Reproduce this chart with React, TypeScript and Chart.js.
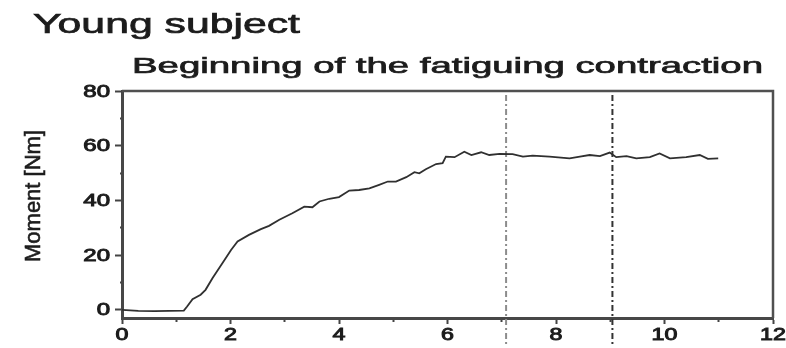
import React, { useEffect, useRef } from "react";
import { Chart, registerables } from "chart.js";

Chart.register(...registerables);

const titleText = "Young subject";
const subtitleText = "Beginning of the fatiguing contraction";
const yAxisLabel = "Moment [Nm]";

const timeSec = [0, 0.3, 0.6, 0.87, 1.14, 1.2, 1.3, 1.45, 1.54, 1.67, 1.85, 2.01, 2.13, 2.34, 2.56, 2.71, 2.9, 3.14, 3.36, 3.51, 3.64, 3.82, 4.0, 4.19, 4.37, 4.56, 4.74, 4.9, 5.05, 5.24, 5.39, 5.48, 5.6, 5.79, 5.91, 5.97, 6.13, 6.31, 6.44, 6.62, 6.77, 6.96, 7.2, 7.39, 7.57, 7.88, 8.25, 8.44, 8.62, 8.81, 8.99, 9.11, 9.3, 9.48, 9.73, 9.91, 10.1, 10.4, 10.65, 10.8, 10.99];
const momentNm = [0, -0.4, -0.5, -0.4, -0.3, 1.2, 3.9, 5.5, 7.3, 11.6, 17, 21.9, 25, 27.4, 29.5, 30.7, 32.9, 35.3, 37.7, 37.5, 39.6, 40.6, 41.2, 43.6, 43.8, 44.4, 45.7, 46.9, 46.9, 48.5, 50.3, 49.9, 51.4, 53.3, 53.6, 56, 55.8, 57.8, 56.6, 57.6, 56.6, 57, 56.9, 56, 56.4, 56, 55.4, 56, 56.6, 56.2, 57.5, 55.8, 56.2, 55.4, 55.8, 57.2, 55.4, 55.8, 56.6, 55.2, 55.4];

const markerTimes = [7.08, 9.04];
const markerColors = ["#8c8c8c", "#333333"];
const markerSpan = [78.5, -13];

const xTickValues = [0, 1, 2, 3, 4, 5, 6, 7, 8, 9, 10, 11, 12];
const xTickLabels = ["0", "", "2", "", "4", "", "6", "", "8", "", "10", "", "12"];
const yTickValues = [0, 10, 20, 30, 40, 50, 60, 70, 80];
const yTickLabels = ["0", "", "20", "", "40", "", "60", "", "80"];

const FONT = "'Liberation Sans', Arial, Helvetica, sans-serif";
const TEXT_COLOR = "#1c1c1c";

function drawStretched(ctx: CanvasRenderingContext2D, text: string, x: number, y: number, size: number, sx: number, align: CanvasTextAlign, baseline: CanvasTextBaseline, weight: number) {
  ctx.save();
  ctx.font = `${size}px ${FONT}`;
  ctx.fillStyle = TEXT_COLOR;
  ctx.strokeStyle = TEXT_COLOR;
  ctx.textAlign = align;
  ctx.textBaseline = baseline;
  ctx.translate(x, y);
  ctx.scale(sx, 1);
  ctx.fillText(text, 0, 0);
  if (weight > 0) {
    ctx.lineWidth = weight;
    ctx.strokeText(text, 0, 0);
  }
  ctx.restore();
}

function drawToWidth(ctx: CanvasRenderingContext2D, text: string, x: number, y: number, size: number, width: number, weight: number) {
  ctx.save();
  ctx.font = `${size}px ${FONT}`;
  const w = ctx.measureText(text).width;
  ctx.restore();
  drawStretched(ctx, text, x, y, size, width / w, "left", "alphabetic", weight);
}

const textPlugin = {
  id: "textPlugin",
  afterDraw(chart: any) {
    const ctx: CanvasRenderingContext2D = chart.ctx;
    const { left, right, top, bottom } = chart.chartArea;
    ctx.save();
    ctx.strokeStyle = "#505050";
    ctx.lineWidth = 2.5;
    ctx.beginPath();
    ctx.moveTo(left, top);
    ctx.lineTo(right, top);
    ctx.lineTo(right, bottom);
    ctx.stroke();
    ctx.restore();

    drawToWidth(ctx, titleText, 33, 33, 27, 267, 0.7);
    drawToWidth(ctx, subtitleText, 132, 73, 22, 631, 0.7);

    const xs = chart.scales.x;
    const ys = chart.scales.y;
    xTickValues.forEach((v, i) => {
      const lab = xTickLabels[i];
      if (!lab) return;
      drawStretched(ctx, lab, xs.getPixelForValue(v), 340, 16, 1.45, "center", "alphabetic", 0.9);
    });
    yTickValues.forEach((v, i) => {
      const lab = yTickLabels[i];
      if (!lab) return;
      drawStretched(ctx, lab, 110, ys.getPixelForValue(v) + 5.5, 16, 1.5, "right", "alphabetic", 0.9);
    });

    ctx.save();
    ctx.font = `22px ${FONT}`;
    ctx.fillStyle = TEXT_COLOR;
    ctx.strokeStyle = TEXT_COLOR;
    ctx.lineWidth = 0.6;
    ctx.translate(40, 196);
    ctx.rotate(-Math.PI / 2);
    const w = ctx.measureText(yAxisLabel).width;
    ctx.scale(132 / w, 1);
    ctx.textAlign = "center";
    ctx.textBaseline = "alphabetic";
    ctx.fillText(yAxisLabel, 0, 0);
    ctx.strokeText(yAxisLabel, 0, 0);
    ctx.restore();
  },
};

export default function App() {
  const ref = useRef<HTMLCanvasElement | null>(null);
  useEffect(() => {
    document.body.style.margin = "0";
    const canvas = ref.current;
    if (!canvas) return;
    const mainData = timeSec.map((t, i) => ({ x: t, y: momentNm[i] }));
    const markerSets = markerTimes.map((t, i) => ({
      data: markerSpan.map((y) => ({ x: t, y })),
      borderColor: markerColors[i],
      borderWidth: 2,
      borderDash: [6, 3, 2, 3],
      pointRadius: 0,
      clip: 60 as any,
      fill: false,
    }));
    const chart = new Chart(canvas, {
      type: "line",
      data: {
        datasets: [
          {
            data: mainData,
            borderColor: "#303030",
            borderWidth: 1.8,
            pointRadius: 0,
            tension: 0,
            fill: false,
          },
          ...markerSets,
        ],
      },
      options: {
        animation: false,
        responsive: false,
        devicePixelRatio: 1,
        layout: { padding: { left: 122, right: 13, top: 91, bottom: 30 } },
        plugins: { legend: { display: false }, tooltip: { enabled: false }, title: { display: false } },
        scales: {
          x: {
            type: "linear",
            min: 0,
            max: 12,
            afterFit: (s: any) => { s.height = 0; },
            afterBuildTicks: (s: any) => { s.ticks = xTickValues.map((v) => ({ value: v })); },
            ticks: { display: false },
            border: { display: true, color: "#474747", width: 3 },
            grid: {
              drawOnChartArea: false,
              drawTicks: true,
              tickLength: 6,
              tickWidth: 2,
              tickColor: "#444",
              tickBorderDash: (c: any) => (c.tick && c.tick.value % 2 !== 0 ? [2, 20] : []),
            },
          },
          y: {
            type: "linear",
            min: -3,
            max: 80,
            afterFit: (s: any) => { s.width = 0; },
            afterBuildTicks: (s: any) => { s.ticks = yTickValues.map((v) => ({ value: v })); },
            ticks: { display: false },
            border: { display: true, color: "#474747", width: 3 },
            grid: {
              drawOnChartArea: false,
              drawTicks: true,
              tickLength: 7,
              tickWidth: 2,
              tickColor: "#444",
              tickBorderDash: (c: any) => (c.tick && c.tick.value % 20 !== 0 ? [0, 5, 2, 20] : []),
            },
          },
        },
      },
      plugins: [textPlugin],
    });
    return () => chart.destroy();
  }, []);
  return (
    <div style={{ width: 786, height: 348, background: "#fff" }}>
      <canvas ref={ref} width={786} height={348} style={{ display: "block" }} />
    </div>
  );
}
